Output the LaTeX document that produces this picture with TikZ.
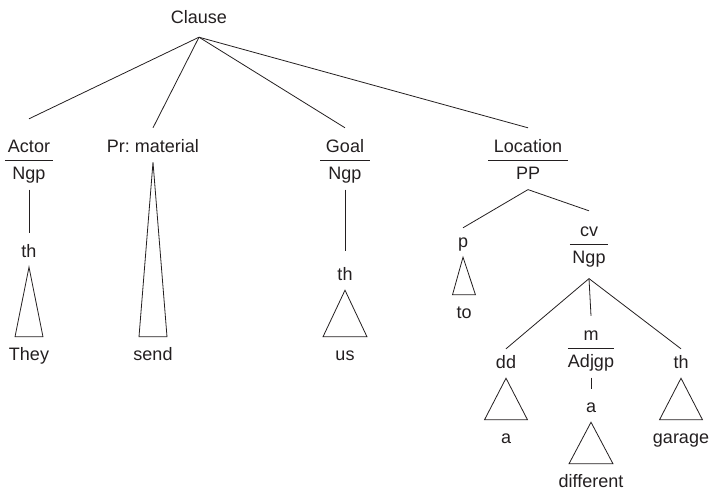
\documentclass[tikz,border=0pt]{standalone}
\usepackage{fontspec}
\setmainfont{Liberation Sans}
\usetikzlibrary{positioning}
\definecolor{ink}{HTML}{231F20}
\frenchspacing
\tikzset{
  lbl/.style={font=\fontsize{18}{20}\selectfont,text=ink,inner xsep=0pt,inner ysep=6pt,
    text height=13pt,text depth=4pt,anchor=base},
  fun/.style={lbl,text depth=2pt,minimum width=#1},
  branch/.style={draw=ink,line width=0.8pt}
}
% triangle from a label down to the words it covers
\newcommand\tri[3]{\draw[branch] (#1.south) -- ([xshift=-#3pt,yshift=4pt]#2.north)
  -- ([xshift=#3pt,yshift=4pt]#2.north) -- cycle;}
\newcommand\funrule[1]{\draw[branch] (#1.south west) -- (#1.south east);}

\begin{document}
\begin{tikzpicture}[x=1pt,y=-1pt]
  \useasboundingbox (0,0) rectangle (712,493);

  \node[lbl] (clause) at (199,23) {Clause};
  \coordinate (clauseFork) at ([yshift=-4pt]clause.south);

  % Actor
  \node[fun=48] (actor) at (29,152) {Actor};
  \node[lbl,below=0pt of actor] (actorCl) {Ngp};
  \node[lbl] (actorTh) at (29,257) {th};
  \node[lbl] (they) at (29,360) {They};

  % Process
  \node[lbl] (pr) at (153,152) {Pr: material};
  \node[lbl] (send) at (153,360) {send};

  % Goal
  \node[fun=49] (goal) at (345,152) {Goal};
  \node[lbl,below=0pt of goal] (goalCl) {Ngp};
  \node[lbl] (goalTh) at (345,280) {th};
  \node[lbl] (us) at (345,360) {us};

  % Location
  \node[fun=79] (loc) at (528,152) {Location};
  \node[lbl,below=0pt of loc] (locCl) {PP};
  \node[lbl] (p) at (463,247) {p};
  \node[lbl] (to) at (464,318) {to};
  \node[fun=38] (cv) at (589,236) {cv};
  \node[lbl,below=0pt of cv] (cvCl) {Ngp};
  \coordinate (cvFork) at ([yshift=-5pt]cvCl.south);
  \node[lbl] (dd) at (506,368) {dd};
  \node[lbl] (ddA) at (506,443) {a};
  \node[fun=46] (m) at (591,340) {m};
  \node[lbl,below=0pt of m] (mCl) {Adjgp};
  \node[lbl] (mA) at (591,412) {a};
  \node[lbl] (diff) at (591,487) {different};
  \node[lbl] (th) at (681,368) {th};
  \node[lbl] (garage) at (681,443) {garage};

  \funrule{actor} \funrule{goal} \funrule{loc} \funrule{cv} \funrule{m}

  \draw[branch] (clauseFork) -- ([yshift=14pt]actor.north);
  \draw[branch] (clauseFork) -- ([yshift=5pt]pr.north);
  \draw[branch] (clauseFork) -- ([yshift=5pt]goal.north);
  \draw[branch] (clauseFork) -- ([yshift=5pt]loc.north);

  \draw[branch,shorten >=5pt] (actorCl.south) -- (actorTh.north);
  \draw[branch,shorten >=10pt] (goalCl.south) -- (goalTh.north);
  \draw[branch] (locCl.south) -- (p.north);
  \draw[branch] (locCl.south) -- ([yshift=6pt]cv.north);
  \draw[branch] (cvFork) -- (dd.north);
  \draw[branch] (cvFork) -- ([yshift=5pt]m.north);
  \draw[branch] (cvFork) -- (th.north);
  \draw[branch,shorten >=4pt] (mCl.south) -- (mA.north);

  \tri{actorTh}{they}{14}
  \tri{pr}{send}{14}
  \tri{goalTh}{us}{22}
  \tri{p}{to}{11.5}
  \tri{dd}{ddA}{21.5}
  \tri{mA}{diff}{22}
  \tri{th}{garage}{21.5}
\end{tikzpicture}
\end{document}
